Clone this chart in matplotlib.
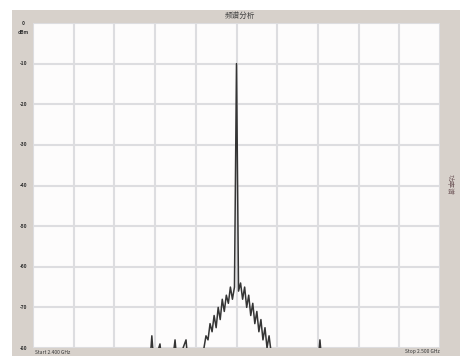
import matplotlib
matplotlib.use("Agg")
import matplotlib.pyplot as plt
from matplotlib.patches import Rectangle

plt.rcParams['font.family'] = ['Noto Sans CJK SC', 'DejaVu Sans']

# Spectrum trace (MHz, dBm)
freq_mhz = [2400.0, 2428.7, 2429.2, 2429.7, 2431.2, 2431.7, 2434.2, 2434.9, 2435.4,
            2437.6, 2438.1, 2441.0, 2442.0, 2442.5, 2443.0, 2443.5, 2444.0, 2444.5,
            2445.0, 2445.5, 2446.0, 2446.5, 2447.0, 2447.5, 2448.0, 2448.5, 2449.0,
            2449.5, 2450.0, 2450.5, 2451.0, 2451.5, 2452.0, 2452.5, 2453.0, 2453.5,
            2454.0, 2454.5, 2455.0, 2455.5, 2456.0, 2456.5, 2457.0, 2457.5, 2458.0,
            2458.5, 2459.0, 2470.0, 2470.5, 2471.0, 2500.0]
level_dbm = [-84, -84, -77, -84, -79, -84, -84, -78, -84,
             -78, -84, -84, -80, -77, -78, -74, -76, -72,
             -75, -70, -73, -68, -71, -67, -69, -65, -68,
             -65, -10, -66, -64, -68, -65, -70, -67, -72,
             -69, -74, -71, -76, -73, -78, -75, -80, -77,
             -81, -84, -84, -78, -84, -84]

y_ticks = [0, -10, -20, -30, -40, -50, -60, -70, -80]
y_tick_labels = ["0", "-10", "-20", "-30", "-40", "-50", "-60", "-70", "-80"]
x_start, x_stop = 2400.0, 2500.0
x_divisions = 10

title_text = "频谱分析"
side_text = "功率谱"
start_text = "Start 2.400 GHz"
stop_text = "Stop 2.500 GHz"

W, H = 465, 356
fig = plt.figure(figsize=(W / 100, H / 100), dpi=100, facecolor="white")

# instrument panel background
bg = fig.add_axes([0, 0, 1, 1], zorder=0)
bg.set_xlim(0, W)
bg.set_ylim(H, 0)
bg.axis("off")
bg.add_patch(Rectangle((12, 10), 448, 346, facecolor="#d7d1cb", edgecolor="none"))

ax = fig.add_axes([33 / W, 8 / H, 407 / W, 325 / H], zorder=1)
ax.set_facecolor("#fdfcfc")
ax.set_xlim(x_start, x_stop)
ax.set_ylim(y_ticks[-1], y_ticks[0])

step = (x_stop - x_start) / x_divisions
ax.set_xticks([x_start + i * step for i in range(x_divisions + 1)])
ax.set_yticks(y_ticks)
ax.grid(True, color="#dddde0", linewidth=1.5)
ax.set_axisbelow(True)
ax.tick_params(length=0, labelbottom=False, labelleft=False)
for s in ax.spines.values():
    s.set_visible(False)

ax.plot(freq_mhz, level_dbm, color="#353535", linewidth=1.1, clip_on=True)

# y labels on the panel
for v, lab in zip(y_ticks, y_tick_labels):
    ax.annotate(lab, xy=(0, v), xycoords=("axes fraction", "data"),
                xytext=(-7, 0), textcoords="offset points", ha="center", va="center",
                fontsize=3.5, color="#333333", fontweight="bold", annotation_clip=False)
ax.annotate("dBm", xy=(0, y_ticks[0]), xycoords=("axes fraction", "data"),
            xytext=(-7, -6.5), textcoords="offset points", ha="center", va="center",
            fontsize=3.5, color="#333333", fontweight="bold", annotation_clip=False)

fig.text(240 / W, 1 - 16 / H, title_text, ha="center", va="center",
         fontsize=5.5, color="#444444", zorder=3)
fig.text(450 / W, 1 - 185 / H, side_text, ha="center", va="center",
         fontsize=5, color="#7a6466", rotation=270, zorder=3)
fig.text(35 / W, 1 - 352 / H, start_text, ha="left", va="center",
         fontsize=3.5, color="#333333", zorder=3)
fig.text(440 / W, 1 - 352 / H, stop_text, ha="right", va="center",
         fontsize=3.5, color="#333333", zorder=3)

fig.savefig("out.png", dpi=100, facecolor="white")
